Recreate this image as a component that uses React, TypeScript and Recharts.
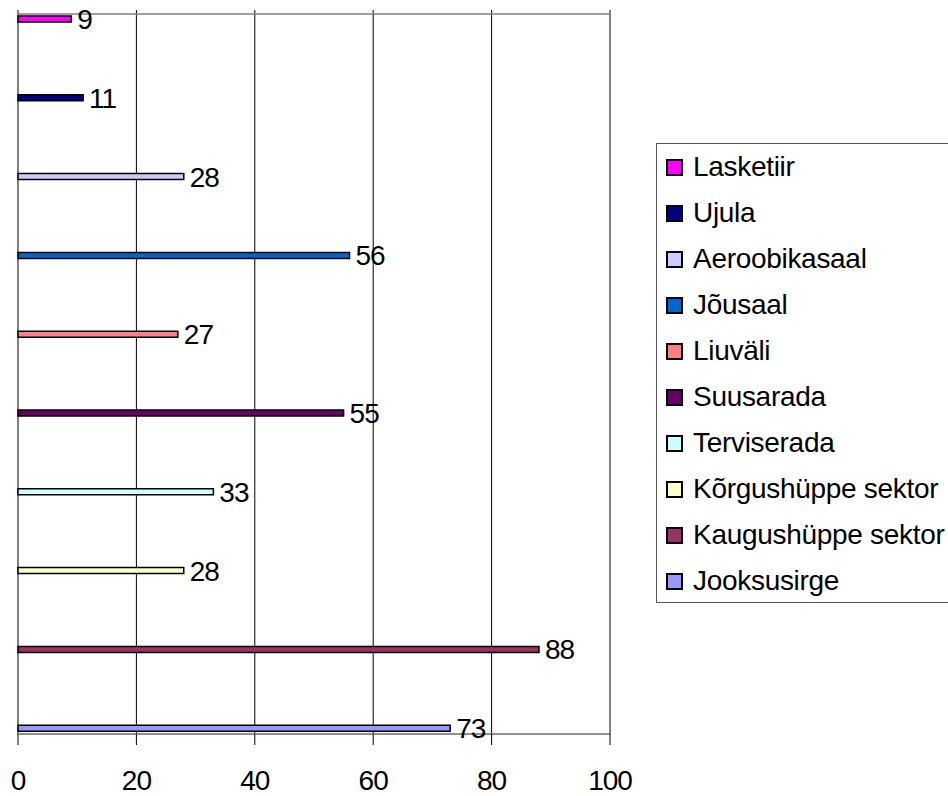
import { BarChart, Bar, XAxis, YAxis, CartesianGrid, Legend, LabelList, ReferenceArea } from 'recharts'

const categories = [
  'Lasketiir',
  'Ujula',
  'Aeroobikasaal',
  'Jõusaal',
  'Liuväli',
  'Suusarada',
  'Terviserada',
  'Kõrgushüppe sektor',
  'Kaugushüppe sektor',
  'Jooksusirge',
]
const values = [9, 11, 28, 56, 27, 55, 33, 28, 88, 73]
const colors = ['#FF00FF', '#000080', '#CCCCFF', '#0066CC', '#FF8080', '#660066', '#CCFFFF', '#FFFFCC', '#993366', '#9999FF']
const xTicks = [0, 20, 40, 60, 80, 100]

const FONT = '"Liberation Sans", Arial, sans-serif'

const row: Record<string, string | number> = { name: 'rajatised' }
categories.forEach((c, i) => {
  row['s' + i] = values[i]
})
const data = [row]

const renderLegend = () => (
  <div
    style={{
      border: '1.5px solid #555',
      background: '#fff',
      width: 320,
      height: 460,
      boxSizing: 'border-box',
      fontFamily: FONT,
      fontSize: 28,
      letterSpacing: -0.3,
      color: '#000',
    }}
  >
    {categories.map((c, i) => (
      <div key={c} style={{ height: 46, display: 'flex', alignItems: 'center', whiteSpace: 'nowrap' }}>
        <span
          style={{
            display: 'inline-block',
            flex: 'none',
            width: 13,
            height: 13,
            border: '2px solid #000',
            background: colors[i],
            marginLeft: 9,
            marginRight: 10,
          }}
        />
        <span>{c}</span>
      </div>
    ))}
  </div>
)

export default function App() {
  return (
    <div style={{ position: 'absolute', left: 0, top: 0, width: 948, height: 796, overflow: 'hidden', background: '#fff' }}>
      <BarChart
        width={948}
        height={796}
        data={data}
        layout="vertical"
        margin={{ top: 10, right: 338, bottom: 0, left: 18 }}
        barSize={6}
        barGap={72.8}
      >
        <CartesianGrid horizontal={false} stroke="#000" />
        <XAxis
          type="number"
          domain={[0, 100]}
          ticks={xTicks}
          interval={0}
          height={62}
          axisLine={{ stroke: '#808080' }}
          tickLine={{ stroke: '#000' }}
          tickSize={11}
          tickMargin={25}
          tick={{ fontSize: 28, fill: '#000', fontFamily: FONT, letterSpacing: -1 }}
        />
        <YAxis
          type="category"
          dataKey="name"
          width={0}
          tick={false}
          tickLine={false}
          padding={{ top: 4, bottom: 0 }}
          axisLine={{ stroke: '#808080' }}
        />
        <ReferenceArea x1={0} x2={100} fill="none" stroke="#808080" strokeWidth={1.5} ifOverflow="visible" />
        {categories.map((c, i) => (
          <Bar
            key={c}
            dataKey={'s' + i}
            name={c}
            fill={colors[i]}
            stroke="#000"
            strokeWidth={1.5}
            isAnimationActive={false}
          >
            <LabelList
              dataKey={'s' + i}
              position="right"
              offset={6}
              style={{ fontSize: 28, fill: '#000', fontFamily: FONT, letterSpacing: -1 }}
            />
          </Bar>
        ))}
        <Legend
          layout="horizontal"
          align="center"
          verticalAlign="middle"
          content={renderLegend}
          wrapperStyle={{ left: 656, top: 143, width: 320, height: 460 }}
        />
      </BarChart>
    </div>
  )
}
